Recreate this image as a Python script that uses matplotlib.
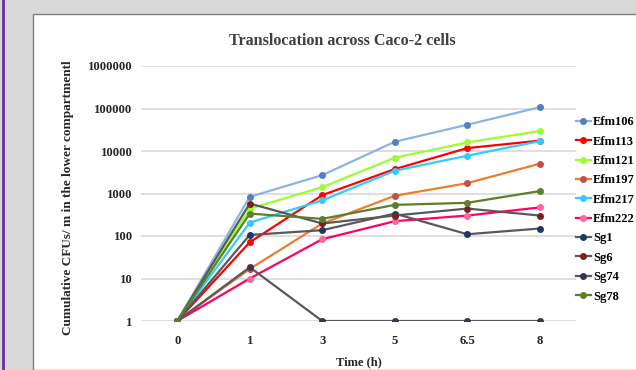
import matplotlib
matplotlib.use("Agg")
import matplotlib.pyplot as plt
from matplotlib.patches import Rectangle
from matplotlib.lines import Line2D

times = ["0", "1", "3", "5", "6.5", "8"]
strains = ["Efm106", "Efm113", "Efm121", "Efm197", "Efm217", "Efm222", "Sg1", "Sg6", "Sg74", "Sg78"]
efm106 = [1, 835, 2700, 16500, 41500, 107000]
efm113 = [1, 71, 915, 3750, 11700, 17500]
efm121 = [1, 437, 1410, 6940, 15900, 29500]
efm197 = [1, 16.8, 197, 884, 1750, 5030]
efm217 = [1, 207, 690, 3425, 7740, 17000]
efm222 = [1, 10, 84, 223, 303, 470]
sg1 = [1, 106, 137, 337, 110, 150]
sg6 = [1, 580, 197, 303, 442, 303]
sg74 = [1, 18.4, 1, 1, 1, 1]
sg78 = [1, 337, 253, 540, 604, 1140]
series = [efm106, efm113, efm121, efm197, efm217, efm222, sg1, sg6, sg74, sg78]

line_colors = ["#8db3e2", "#ff0000", "#99ff33", "#ed7d31", "#33ccff", "#ff0066",
               "#595959", "#595959", "#595959", "#5e7f2a"]
marker_colors = ["#4f81bd", "#ff0000", "#99ff33", "#c0504d", "#33ccff", "#ff6699",
                 "#1f3864", "#7b2020", "#403151", "#5e7f2a"]

plt.rcParams["font.family"] = ["Liberation Serif", "DejaVu Serif"]
plt.rcParams["font.weight"] = "bold"

fig = plt.figure(figsize=(6.36, 3.70), dpi=100, facecolor="#d9d9d9")
fig.patches.append(Rectangle((33 / 636, 0), 1, 356 / 370, transform=fig.transFigure,
                             facecolor="white", edgecolor="#7f7f7f", linewidth=1.0, zorder=-10))
fig.lines.append(Line2D([2.5 / 636, 2.5 / 636], [0, 1], transform=fig.transFigure,
                        color="#7030a0", linewidth=2, zorder=-5))

ax = fig.add_axes([141 / 636, 1 - 321 / 370, 435 / 636, 255 / 370])
ax.patch.set_alpha(0)
x = range(len(times))
for name, vals, lc, mc in zip(strains, series, line_colors, marker_colors):
    ax.plot(x, vals, color=lc, linewidth=1.6, marker="o", markersize=4,
            markerfacecolor=mc, markeredgecolor=mc, label=name)

ax.set_yscale("log")
ax.set_ylim(1, 1e6)
ax.set_xlim(-0.5, len(times) - 0.5)
ax.set_yticks([1, 10, 100, 1000, 10000, 100000, 1000000])
ax.set_yticklabels(["1", "10", "100", "1000", "10000", "100000", "1000000"])
ax.minorticks_off()
ax.set_xticks(list(x))
ax.set_xticklabels(times)
ax.tick_params(length=0, labelsize=9.2, colors="#262626")
ax.tick_params(axis="y", pad=6)
ax.tick_params(axis="x", pad=10)
ax.grid(axis="y", color="#d9d9d9", linewidth=1.2)
ax.set_axisbelow(True)
for s in ax.spines.values():
    s.set_visible(False)

fig.text(342 / 636, 1 - 41 / 370, "Translocation across Caco-2 cells", fontsize=11.6,
         fontweight="bold", color="#404040", ha="center", va="center")
ax.set_xlabel("Time (h)", fontsize=9, fontweight="bold", color="#262626", labelpad=7)
ax.set_ylabel("Cumulative CFUs/ m in the lower compartmentl", fontsize=9.5,
              fontweight="bold", color="#262626")
ax.yaxis.set_label_coords(-(141 - 74) / 435, (321 - 198) / 255)

ax.legend(loc="upper left", bbox_to_anchor=(0.988, 0.823), frameon=False,
          fontsize=9, handlelength=1.2, handletextpad=0.2, labelspacing=0.59,
          borderaxespad=0)

fig.savefig("out.png", dpi=100, facecolor=fig.get_facecolor())
